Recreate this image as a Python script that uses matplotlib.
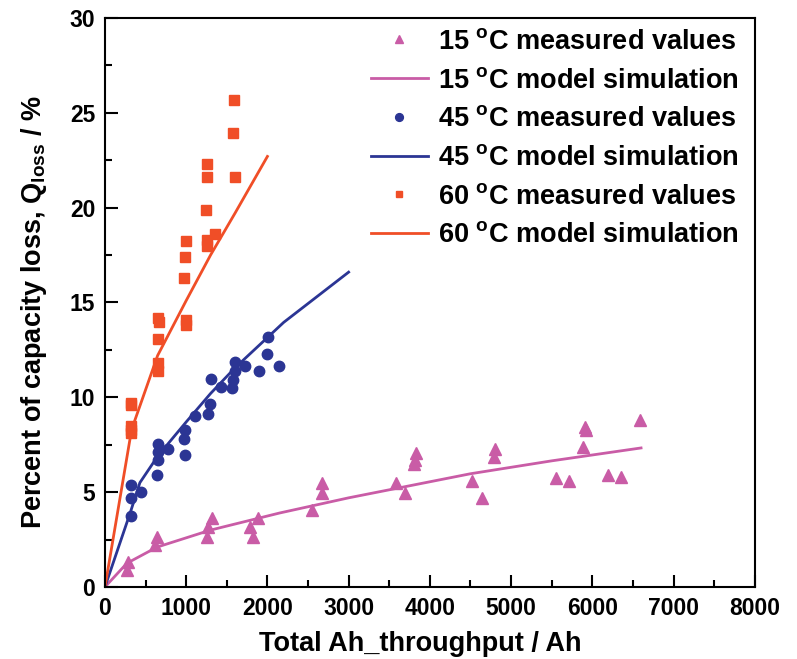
import matplotlib
matplotlib.use("Agg")
import matplotlib.pyplot as plt
from matplotlib.ticker import MultipleLocator

plt.rcParams["font.family"] = ["Liberation Sans", "DejaVu Sans"]
plt.rcParams["font.weight"] = "bold"
plt.rcParams["mathtext.fontset"] = "custom"
plt.rcParams["mathtext.rm"] = "Liberation Sans:bold"
plt.rcParams["mathtext.bf"] = "Liberation Sans:bold"
plt.rcParams["mathtext.default"] = "bf"

# 15 C measured values (Ah, %)
x15 = [279, 267, 644, 615, 1313, 1272, 1251, 1887, 1785, 1817, 2552, 2675, 2667,
       3582, 3692, 3828, 3815, 3803, 4521, 4648, 4808, 4788, 5559, 5715, 5916,
       5928, 5887, 6194, 6359, 6585]
y15 = [1.33, 0.9, 2.65, 2.21, 3.62, 3.17, 2.65, 3.62, 3.17, 2.65, 4.05, 5.46, 4.96,
       5.46, 4.93, 7.07, 6.72, 6.47, 5.6, 4.7, 7.3, 6.83, 5.72, 5.58, 8.44,
       8.26, 7.38, 5.93, 5.8, 8.79]

# 45 C measured values
x45 = [2010, 1998, 2142, 1600, 1723, 1895, 1600, 1580, 1567, 1305, 1428, 1108,
       1292, 1272, 985, 976, 985, 648, 648, 779, 648, 636, 320, 443, 316, 316]
y45 = [13.17, 12.3, 11.65, 11.86, 11.65, 11.4, 11.4, 10.9, 10.5, 10.95, 10.54, 9.0,
       9.63, 9.1, 8.26, 7.79, 6.95, 7.56, 7.12, 7.25, 6.68, 5.93, 5.37, 5.0, 4.67, 3.74]

# 60 C measured values
x60 = [1584, 1571, 1259, 1251, 1596, 1239, 997, 1259, 1354, 1259, 985, 972,
       648, 665, 997, 993, 648, 648, 648, 320, 324, 320, 316, 320]
y60 = [25.7, 23.96, 22.3, 21.6, 21.6, 19.9, 18.26, 18.3, 18.6, 17.96, 17.4, 16.3,
       14.2, 13.96, 14.05, 13.8, 13.1, 11.8, 11.4, 9.7, 9.6, 8.5, 8.3, 8.1]

# model simulation curves
m15_x = [0, 270, 640, 1300, 2150, 3000, 4500, 5500, 6600]
m15_y = [0, 1.25, 2.1, 3.0, 3.9, 4.7, 5.97, 6.65, 7.33]
m45_x = [0, 310, 430, 650, 1000, 1300, 1600, 2200, 3000]
m45_y = [0, 3.9, 5.5, 6.9, 8.7, 10.2, 11.55, 13.95, 16.6]
m60_x = [0, 328, 648, 1000, 1300, 1600, 2000]
m60_y = [0, 8.3, 12.2, 15.1, 17.5, 19.7, 22.7]

c15 = "#C95CA6"
c45 = "#2B3594"
c60 = "#F04E27"

fig = plt.figure(figsize=(7.97, 6.59), dpi=100)
ax = fig.add_axes([0.1317, 0.1093, 0.8153, 0.8634])

ax.plot(x15, y15, linestyle="none", marker="^", markersize=8.5, color=c15,
        label=r"15 $^{\mathrm{o}}$C measured values")
ax.plot(m15_x, m15_y, color=c15, lw=2, label=r"15 $^{\mathrm{o}}$C model simulation")
ax.plot(x45, y45, linestyle="none", marker="o", markersize=7.5, color=c45,
        label=r"45 $^{\mathrm{o}}$C measured values")
ax.plot(m45_x, m45_y, color=c45, lw=2, label=r"45 $^{\mathrm{o}}$C model simulation")
ax.plot(x60, y60, linestyle="none", marker="s", markersize=6.5, color=c60,
        label=r"60 $^{\mathrm{o}}$C measured values")
ax.plot(m60_x, m60_y, color=c60, lw=2, label=r"60 $^{\mathrm{o}}$C model simulation")

ax.set_xlim(0, 8000)
ax.set_ylim(0, 30)
ax.xaxis.set_major_locator(MultipleLocator(1000))
ax.xaxis.set_minor_locator(MultipleLocator(500))
ax.yaxis.set_major_locator(MultipleLocator(5))
ax.yaxis.set_minor_locator(MultipleLocator(2.5))
ax.tick_params(which="both", direction="in", width=1.5, labelsize=16.5)
ax.tick_params(axis="x", pad=7)
ax.tick_params(axis="y", pad=7)
ax.tick_params(which="major", length=9)
ax.tick_params(which="minor", length=5)
for s in ax.spines.values():
    s.set_linewidth(1.5)

ax.set_xlabel("Total Ah_throughput / Ah", fontsize=19.5, fontweight="bold")
ax.set_ylabel(r"Percent of capacity loss, Q$_{\mathrm{loss}}$ / %", fontsize=19.5,
              fontweight="bold")
ax.xaxis.set_label_coords(0.485, -0.077)
ax.yaxis.set_label_coords(-0.086, 0.483)

leg = ax.legend(loc="upper right", frameon=False, fontsize=19.5, handlelength=2.1,
                markerscale=0.75, labelspacing=0.47, borderaxespad=0.1, borderpad=0.3,
                handletextpad=0.4, bbox_to_anchor=(0.993, 1.0))

fig.savefig("out.png", dpi=100)
